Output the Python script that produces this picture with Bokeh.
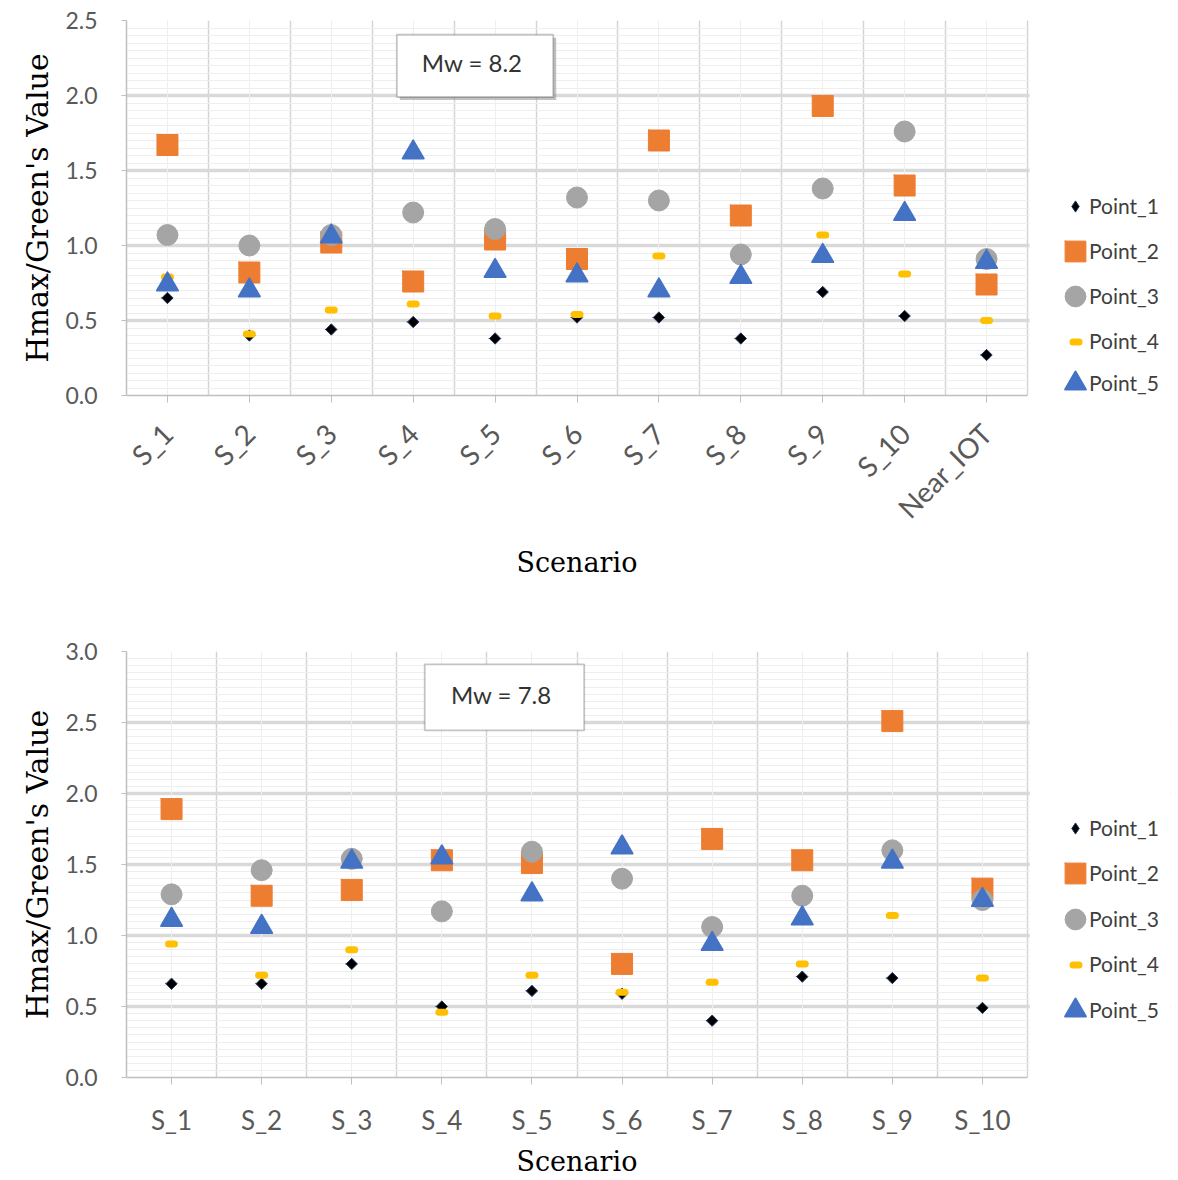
import math
from bokeh.plotting import figure
from bokeh.models import (Range1d, FixedTicker, Grid, Legend, LegendItem, Title,
                          BoxAnnotation, Label, NumeralTickFormatter, ColumnDataSource)
from bokeh.layouts import column
from bokeh.embed import file_html
from bokeh.resources import INLINE

# ---------------- data ----------------
series_names = ["Point_1", "Point_2", "Point_3", "Point_4", "Point_5"]

top_categories = ["S_1", "S_2", "S_3", "S_4", "S_5", "S_6", "S_7", "S_8", "S_9", "S_10", "Near_IOT"]
top_point_1 = [0.65, 0.40, 0.44, 0.49, 0.38, 0.52, 0.52, 0.38, 0.69, 0.53, 0.27]
top_point_2 = [1.67, 0.82, 1.02, 0.76, 1.04, 0.91, 1.70, 1.20, 1.93, 1.40, 0.74]
top_point_3 = [1.07, 1.00, 1.07, 1.22, 1.11, 1.32, 1.30, 0.94, 1.38, 1.76, 0.91]
top_point_4 = [0.79, 0.41, 0.57, 0.61, 0.53, 0.54, 0.93, 0.79, 1.07, 0.81, 0.50]
top_point_5 = [0.74, 0.70, 1.06, 1.62, 0.83, 0.80, 0.70, 0.79, 0.93, 1.21, 0.89]
top_title = "Mw = 8.2"

bottom_categories = ["S_1", "S_2", "S_3", "S_4", "S_5", "S_6", "S_7", "S_8", "S_9", "S_10"]
bottom_point_1 = [0.66, 0.66, 0.80, 0.50, 0.61, 0.59, 0.40, 0.71, 0.70, 0.49]
bottom_point_2 = [1.89, 1.28, 1.32, 1.53, 1.51, 0.80, 1.68, 1.53, 2.51, 1.33]
bottom_point_3 = [1.29, 1.46, 1.54, 1.17, 1.59, 1.40, 1.06, 1.28, 1.60, 1.25]
bottom_point_4 = [0.94, 0.72, 0.90, 0.46, 0.72, 0.60, 0.67, 0.80, 1.14, 0.70]
bottom_point_5 = [1.11, 1.06, 1.52, 1.55, 1.29, 1.62, 0.94, 1.12, 1.52, 1.25]
bottom_title = "Mw = 7.8"

y_label = "Hmax/Green's Value"
x_label = "Scenario"

# ---------------- styles ----------------
STYLES = [
    dict(marker="square", angle=math.pi / 4, size=8, fill_color="#000000",
         line_color="#1f3864", line_width=1, legend_w=28, legend_marker="diamond"),
    dict(marker="square", angle=0, size=21, fill_color="#ED7D31",
         line_color="#ED7D31", line_width=1, legend_w=52, legend_marker=None),
    dict(marker="circle", angle=0, size=21, fill_color="#A5A5A5",
         line_color="#A5A5A5", line_width=1, legend_w=52, legend_marker=None),
    dict(marker="dash", angle=0, size=6, fill_color="#FFC000",
         line_color="#FFC000", line_width=7, legend_w=15, legend_marker=None),
    dict(marker="triangle", angle=0, size=21, fill_color="#4472C4",
         line_color="#4472C4", line_width=2, legend_w=52, legend_marker=None),
]

TICK_COLOR = "#595959"
AXIS_COLOR = "#bfbfbf"
BORDER_LEFT = 126
CAT_WIDTH = 901          # pixel width of the category area
FRAME_WIDTH = 1044       # category area + legend area
BORDER_RIGHT = 4
LEGEND_GLYPH_X = 1075
LEGEND_LABEL_X = 1089


def make_chart(categories, series, y_max, title, box, label_xy, legend_centers,
               fig_top, frame_h, border_top, border_bottom, rotate,
               x_major_standoff, x_font, title_standoff, shadow):
    n = len(categories)
    xs = [i + 1 for i in range(n)]
    x_end = 0.5 + FRAME_WIDTH * n / CAT_WIDTH
    p = figure(frame_width=FRAME_WIDTH, frame_height=frame_h,
               x_range=Range1d(0.5, x_end), y_range=Range1d(0, y_max),
               output_backend="svg", toolbar_location=None,
               min_border_left=BORDER_LEFT, min_border_right=BORDER_RIGHT,
               min_border_top=border_top, min_border_bottom=border_bottom,
               background_fill_color="white", border_fill_color="white")
    p.outline_line_color = None

    # y ticks / grid
    majors = [round(0.5 * k, 2) for k in range(int(round(y_max / 0.5)) + 1)]
    minors = [round(0.05 * k, 2) for k in range(int(round(y_max / 0.05)) + 1)]
    yt = FixedTicker(ticks=majors, minor_ticks=minors)
    p.yaxis.ticker = yt
    p.ygrid.ticker = yt
    p.ygrid.grid_line_color = "#d9d9d9"
    p.ygrid.grid_line_width = 3.5
    p.ygrid.minor_grid_line_color = "#eeeeee"
    p.ygrid.minor_grid_line_width = 1
    p.yaxis.formatter = NumeralTickFormatter(format="0.0")

    # x ticks / grid
    xt = FixedTicker(ticks=xs, minor_ticks=[])
    p.xaxis.ticker = xt
    p.xaxis.bounds = (0.5, n + 0.5)
    p.xaxis.major_label_overrides = {x: c for x, c in zip(xs, categories)}
    p.xgrid.ticker = FixedTicker(ticks=[i + 0.5 for i in range(n + 1)], minor_ticks=[])
    p.xgrid.grid_line_color = "#d4d4d4"
    p.xgrid.grid_line_width = 1.5
    center_grid = Grid(dimension=0, ticker=FixedTicker(ticks=xs, minor_ticks=[]),
                       grid_line_color="#efefef", grid_line_width=1)
    p.add_layout(center_grid)

    for ax in (p.xaxis[0], p.yaxis[0]):
        ax.axis_line_color = AXIS_COLOR
        ax.axis_line_width = 1.5
        ax.major_tick_line_color = AXIS_COLOR
        ax.major_tick_in = 0
        ax.minor_tick_out = 0
        ax.minor_tick_in = 0
        ax.major_label_text_color = TICK_COLOR
        ax.major_label_text_font = "Lato"
        ax.axis_label_text_font = "DejaVu Serif"
        ax.axis_label_text_font_size = "30px"
        ax.axis_label_text_font_style = "normal"
        ax.axis_label_text_color = "#000000"
    p.yaxis.major_tick_out = 5
    p.xaxis.major_tick_out = 7
    p.yaxis.major_label_text_font_size = "23px"
    p.xaxis.major_label_text_font_size = x_font
    p.yaxis.major_label_standoff = 24
    p.yaxis.axis_label = y_label
    p.yaxis.axis_label_standoff = 7
    p.xaxis.major_label_standoff = x_major_standoff
    if rotate:
        p.xaxis.major_label_orientation = math.pi / 4

    # x axis title, centred on the category area (not on the legend zone)
    text_w = 121
    p.add_layout(Title(text=x_label, align="left", offset=CAT_WIDTH / 2 - text_w / 2,
                       standoff=title_standoff, text_font="DejaVu Serif",
                       text_font_size="27px", text_font_style="normal",
                       text_color="#000000"), "below")

    # white area to the right of the category area (legend zone)
    p.add_layout(BoxAnnotation(left=n + 0.5 + 0.025, fill_color="white", fill_alpha=1.0,
                               line_color=None, level="annotation"))

    # title box
    bl, br, bt, bb = box
    if shadow:
        dx = 3 * n / CAT_WIDTH
        dy = 3 * y_max / frame_h
        p.add_layout(BoxAnnotation(left=bl + dx, right=br + dx, top=bt - dy, bottom=bb - dy,
                                   fill_color="#9a9a9a", fill_alpha=0.6,
                                   line_color=None, level="annotation"))
    p.add_layout(BoxAnnotation(left=bl, right=br, top=bt, bottom=bb,
                               fill_color="white", fill_alpha=1.0,
                               line_color="#3a3a3a", line_width=1.8, level="annotation"))
    p.add_layout(Label(x=label_xy[0], y=label_xy[1], text=title, text_align="center",
                       text_baseline="middle", text_font="Lato", text_font_size="24px",
                       text_color="#333333"))

    # series
    frame_bottom_page = fig_top + border_top + frame_h
    for i, (name, vals) in enumerate(zip(series_names, series)):
        st = STYLES[i]
        src = ColumnDataSource(dict(x=xs, y=vals))
        r = p.scatter("x", "y", source=src, marker=st["marker"], size=st["size"],
                      angle=st["angle"], fill_color=st["fill_color"],
                      line_color=st["line_color"], line_width=st["line_width"],
                      line_join="round", line_cap="round")
        legend_r = r
        if st["legend_marker"] is not None:
            legend_r = p.scatter(x=[float("nan")], y=[float("nan")], marker=st["legend_marker"],
                                 size=st["size"], fill_color=st["fill_color"],
                                 line_color=st["line_color"], line_width=st["line_width"])
        cy = legend_centers[i]
        # glyph-only legend entry
        w = st["legend_w"]
        lg = Legend(items=[LegendItem(label=" ", renderers=[legend_r])],
                    location=(LEGEND_GLYPH_X - w / 2 - BORDER_LEFT, frame_bottom_page - (cy + w / 2)),
                    glyph_width=w, glyph_height=w, label_height=w, label_width=1,
                    padding=0, margin=0, spacing=0, label_standoff=0,
                    border_line_color=None, background_fill_alpha=0,
                    label_text_font_size="2px")
        p.add_layout(lg)
        # text-only legend entry (invisible dummy glyph)
        dummy = p.scatter(x=[float("nan")], y=[float("nan")], marker="circle", size=1,
                          fill_alpha=0, line_alpha=0)
        lh = 24
        lt = Legend(items=[LegendItem(label=name, renderers=[dummy])],
                    location=(LEGEND_LABEL_X - 1 - BORDER_LEFT, frame_bottom_page - (cy + lh / 2)),
                    glyph_width=1, glyph_height=lh, label_height=lh, label_width=10,
                    padding=0, margin=0, spacing=0, label_standoff=0,
                    border_line_color=None, background_fill_alpha=0,
                    label_text_font="Lato", label_text_font_size="21px",
                    label_text_color="#404040")
        p.add_layout(lt)
    return p


TOP_H = 608
top = make_chart(top_categories,
                 [top_point_1, top_point_2, top_point_3, top_point_4, top_point_5],
                 2.5, top_title,
                 box=(3.80, 5.71, 2.405, 1.99), label_xy=(4.72, 2.22),
                 legend_centers=[206, 251, 296, 341, 383],
                 fig_top=0, frame_h=375, border_top=20, border_bottom=TOP_H - 20 - 375,
                 rotate=True, x_major_standoff=26, x_font="28px", title_standoff=10,
                 shadow=True)

bottom = make_chart(bottom_categories,
                    [bottom_point_1, bottom_point_2, bottom_point_3, bottom_point_4, bottom_point_5],
                    3.0, bottom_title,
                    box=(3.81, 5.58, 2.91, 2.445), label_xy=(4.66, 2.70),
                    legend_centers=[828, 873, 919, 964, 1010],
                    fig_top=TOP_H, frame_h=426, border_top=43, border_bottom=102,
                    rotate=False, x_major_standoff=19, x_font="26px", title_standoff=11,
                    shadow=False)

layout = column(top, bottom, spacing=0)
open("out.html", "w").write(file_html(layout, INLINE))
